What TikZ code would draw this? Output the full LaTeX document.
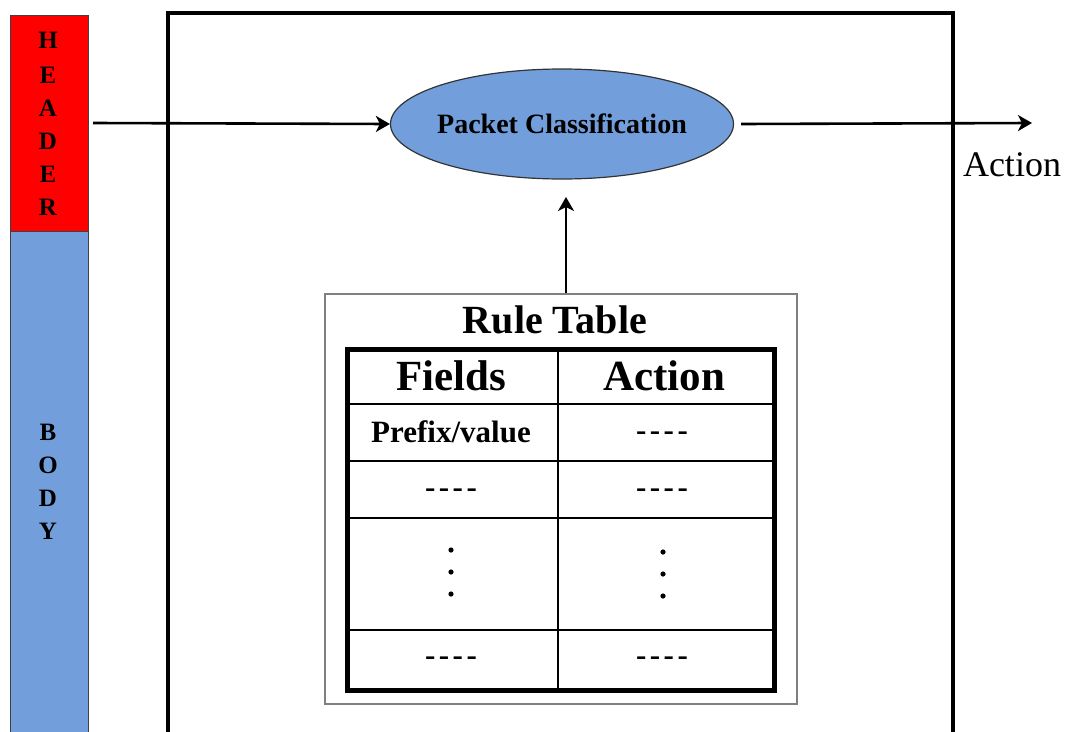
\documentclass[tikz,border=0pt]{standalone}
\usepackage{fontspec}
\setmainfont{Liberation Serif}
\usetikzlibrary{arrows.meta,shapes.geometric}
\definecolor{pblue}{RGB}{114,159,219}
\definecolor{pred}{RGB}{255,0,0}
\newcommand{\dsh}{-\kern3.5pt-\kern3.5pt-\kern3.5pt-}
\tikzset{
  conn/.style={line width=2.6pt,-{Stealth[length=14pt,width=16pt,inset=4pt]}},
  letter/.style={font=\bfseries\fontsize{25}{25}\selectfont,inner sep=0pt},
  cell/.style={font=\bfseries\fontsize{31}{31}\selectfont,inner sep=0pt},
  hdrcell/.style={font=\bfseries\fontsize{43}{43}\selectfont,inner sep=0pt},
  grid/.style={line width=1.6pt}
}
\begin{document}
\begin{tikzpicture}[x=1pt,y=-1pt]
\useasboundingbox (0,0) rectangle (1065,731);
% left packet bar
\node[draw=black!75,line width=1.2pt,fill=pred,minimum width=78pt,minimum height=216pt,inner sep=0pt,anchor=north west] (hdr) at (10,15) {};
\node[draw=black!75,line width=1.2pt,fill=pblue,minimum width=78pt,minimum height=510pt,inner sep=0pt,anchor=north west] (body) at (10,231) {};
\foreach \l/\y [count=\i] in {H/40,E/75,A/108,D/141,E/174,R/207}
  \node[letter] (h\i) at (48,\y) {\l};
\foreach \l/\y [count=\i] in {B/432,O/465,D/498,Y/531}
  \node[letter] (b\i) at (48,\y) {\l};
% outer box
\draw[line width=4pt] (168,733) -- (168,13) -- (953,13) -- (953,733);
% ellipse
\node[ellipse,draw=black!80,line width=1.2pt,fill=pblue,minimum width=343pt,minimum height=110pt,inner sep=0pt] (pc) at (562,124) {};
\node[font=\bfseries\fontsize{28}{28}\selectfont,inner sep=0pt] (pct) at (pc.center) {Packet Classification};
% arrows
\coordinate (hin) at (93,123);
\draw[conn] (hin) -- (pc.west);
\coordinate (aout) at (1032,123);
\draw[conn] (pc.east) ++(7,0) coordinate (pce) (pce) -- (aout);
\node[font=\fontsize{36}{36}\selectfont,inner sep=0pt] (act) at (1012,165) {Action};
% rule table box
\node[draw=black!50,line width=1.6pt,minimum width=472pt,minimum height=410pt,inner sep=0pt,anchor=north west] (rt) at (324,293) {};
\node[font=\bfseries\fontsize{40}{40}\selectfont,inner sep=0pt] (rtt) at (555,320) {Rule Table};
\coordinate (tip) at (566,197);
\draw[conn] (rt.north -| tip) -- (tip);
% inner table
\node[draw,line width=4.5pt,minimum width=427pt,minimum height=341pt,inner sep=0pt,anchor=north west] (tab) at (345,347) {};
\draw[grid] (558,347) -- (558,688);
\foreach \y in {404,461,518,630} \draw[grid] (345,\y) -- (772,\y);
\node[hdrcell] (f) at (451,376) {Fields};
\node[hdrcell] (a) at (664,376) {Action};
\node[cell] (r1a) at (451,432) {Prefix/value};
\node[cell] (r1b) at (662,436) {\dsh};
\node[cell] (r2a) at (451,493) {\dsh};
\node[cell] (r2b) at (662,493) {\dsh};
\foreach \y in {550,572,594} \fill (451,\y) circle (2.6pt);
\foreach \y in {552,574,596} \fill (663,\y) circle (2.6pt);
\node[cell] (r4a) at (451,661) {\dsh};
\node[cell] (r4b) at (662,661) {\dsh};
\end{tikzpicture}
\end{document}
